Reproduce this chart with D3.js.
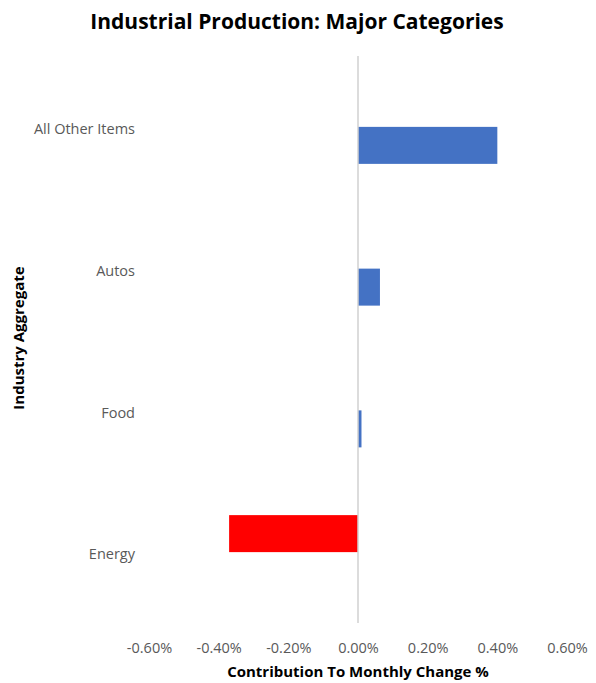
<!DOCTYPE html>
<html>
<head>
<meta charset="utf-8">
<style>
  body { margin: 0; background: #fff; }
  text { font-family: "Open Sans", sans-serif; }
  .tick text { fill: #595959; font-size: 14.5px; }
</style>
</head>
<body>
<svg width="596" height="683"></svg>
<script src="https://d3js.org/d3.v7.min.js"></script>
<script>
  // categories top to bottom
  var categories = ["All Other Items", "Autos", "Food", "Energy"];
  // contribution to monthly change, %
  var values = [0.40, 0.063, 0.01, -0.37];
  var xTicks = [-0.6, -0.4, -0.2, 0, 0.2, 0.4, 0.6];

  var svg = d3.select("svg"),
    margin = {top: 56, right: 29, bottom: 60, left: 149},
    width = 596 - margin.left - margin.right,
    height = 683 - margin.top - margin.bottom,
    g = svg.append("g").attr("transform", "translate(" + margin.left + "," + margin.top + ")");

  var x = d3.scaleLinear().domain([-0.6, 0.6]).range([0, width]);
  var y = d3.scaleBand().domain(categories).range([0, height]);
  // two series in each slot: negative above centre, positive below
  var inner = d3.scaleBand().domain(["neg", "pos"]).range([y.bandwidth() / 2 - 37, y.bandwidth() / 2 + 37]);

  var data = categories.map(function(c, i) {
    return {cat: c, v: values[i], s: values[i] < 0 ? "neg" : "pos"};
  });

  g.selectAll("rect.bar")
    .data(data)
    .enter().append("rect")
    .attr("class", "bar")
    .attr("x", function(d) { return x(Math.min(0, d.v)); })
    .attr("y", function(d) { return y(d.cat) + inner(d.s); })
    .attr("width", function(d) { return Math.abs(x(d.v) - x(0)); })
    .attr("height", inner.bandwidth())
    .attr("fill", function(d) { return d.v < 0 ? "#ff0000" : "#4472c4"; });

  // zero line
  g.append("line")
    .attr("x1", x(0)).attr("x2", x(0))
    .attr("y1", 0).attr("y2", height)
    .attr("stroke", "#d0d0d0")
    .attr("stroke-width", 1.5);

  // x axis
  var xAxis = g.append("g")
    .attr("transform", "translate(0," + height + ")")
    .call(d3.axisBottom(x).tickValues(xTicks).tickSize(0).tickPadding(20)
      .tickFormat(function(d) { return d.toFixed(2) + "%"; }));
  xAxis.select(".domain").remove();

  // y axis
  var yAxis = g.append("g")
    .call(d3.axisLeft(y).tickSize(0).tickPadding(14));
  yAxis.select(".domain").remove();
  yAxis.selectAll(".tick text").attr("dy", "0.5em");

  svg.append("text")
    .attr("x", 297).attr("y", 29)
    .attr("text-anchor", "middle")
    .attr("font-weight", "bold")
    .attr("font-size", 21)
    .attr("fill", "#000")
    .text("Industrial Production: Major Categories");

  svg.append("text")
    .attr("x", 358).attr("y", 677)
    .attr("text-anchor", "middle")
    .attr("font-weight", "bold")
    .attr("font-size", 15)
    .attr("fill", "#000")
    .text("Contribution To Monthly Change %");

  svg.append("text")
    .attr("transform", "translate(24,338) rotate(-90)")
    .attr("text-anchor", "middle")
    .attr("font-weight", "bold")
    .attr("font-size", 15)
    .attr("fill", "#000")
    .text("Industry Aggregate");
</script>
</body>
</html>
